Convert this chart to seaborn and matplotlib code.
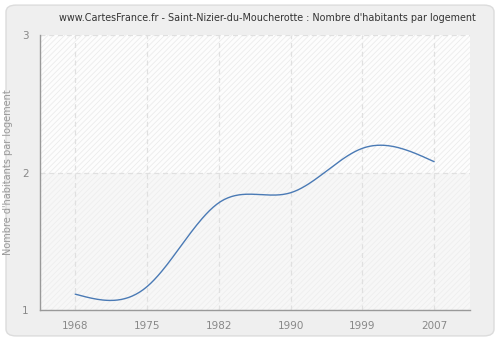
import numpy as np
import pandas as pd
import matplotlib
matplotlib.use("Agg")
import matplotlib.pyplot as plt
import seaborn as sns
from matplotlib.patches import FancyBboxPatch, Rectangle

years = [1968, 1975, 1982, 1990, 1999, 2007]
values = [1.116, 1.17, 1.78, 1.853, 2.176, 2.079]
yticks = [1, 2, 3]
title = "www.CartesFrance.fr - Saint-Nizier-du-Moucherotte : Nombre d'habitants par logement"
ylabel = "Nombre d'habitants par logement"


def natural_spline(xs, ys, n=40):
    xs = np.asarray(xs, float)
    ys = np.asarray(ys, float)
    m = len(xs)
    h = np.diff(xs)
    A = np.zeros((m, m))
    b = np.zeros(m)
    A[0, 0] = 1
    A[-1, -1] = 1
    for i in range(1, m - 1):
        A[i, i - 1] = h[i - 1]
        A[i, i] = 2 * (h[i - 1] + h[i])
        A[i, i + 1] = h[i]
        b[i] = 6 * ((ys[i + 1] - ys[i]) / h[i] - (ys[i] - ys[i - 1]) / h[i - 1])
    M = np.linalg.solve(A, b)
    px, py = [], []
    for i in range(m - 1):
        t = np.linspace(xs[i], xs[i + 1], n)
        if i > 0:
            t = t[1:]
        a = xs[i + 1] - t
        c = t - xs[i]
        y = (M[i] * a ** 3 + M[i + 1] * c ** 3) / (6 * h[i]) \
            + (ys[i] / h[i] - M[i] * h[i] / 6) * a \
            + (ys[i + 1] / h[i] - M[i + 1] * h[i] / 6) * c
        px.extend(t); py.extend(y)
    return np.array(px), np.array(py)


sns.set_style("white")
plt.rcParams['font.family'] = ['DejaVu Sans']
plt.rcParams['hatch.linewidth'] = 0.6
plt.rcParams['hatch.color'] = '#ececec'

fig = plt.figure(figsize=(5, 3.4), dpi=100)
fig.patch.set_facecolor('white')
frame = FancyBboxPatch((0.012, 0.012), 0.976, 0.973,
                       boxstyle="round,pad=0,rounding_size=0.02",
                       transform=fig.transFigure, facecolor='#efefef',
                       edgecolor='#dcdcdc', linewidth=1, zorder=-10)
fig.patches.append(frame)

ax = fig.add_axes([0.08, 0.088, 0.86, 0.809])
ax.set_facecolor('#f9f9f9')
ax.set_xlim(-0.49, 5.5)
ax.set_ylim(1, 3)

ax.add_patch(Rectangle((-0.49, 2), 6, 1, facecolor='#fdfdfd', edgecolor='#ececec',
                       hatch='//////', linewidth=0, zorder=0))
ax.add_patch(Rectangle((-0.49, 1), 6, 1, facecolor='#f7f7f7', edgecolor='#eeeeee',
                       hatch='//////', linewidth=0, zorder=0))

pos = list(range(len(years)))
sx, sy = natural_spline(pos, values)
df = pd.DataFrame({"x": sx, "y": sy})
sns.lineplot(data=df, x="x", y="y", ax=ax, color='#4a7ab5', linewidth=1.0,
             sort=False, estimator=None, zorder=5)

ax.set_xticks(pos)
ax.set_xticklabels([str(y) for y in years])
ax.set_yticks(yticks)
ax.set_yticklabels([str(v) for v in yticks])
for x in pos:
    ax.axvline(x, color='#e0e0e0', linestyle=(0, (4, 3)), linewidth=0.9, zorder=1)
for y in yticks:
    ax.axhline(y, color='#e0e0e0', linestyle=(0, (4, 3)), linewidth=0.9, zorder=1)

for s in ['top', 'right']:
    ax.spines[s].set_visible(False)
for s in ['left', 'bottom']:
    ax.spines[s].set_color('#999999')
    ax.spines[s].set_linewidth(1)
ax.tick_params(axis='both', colors='#999999', labelcolor='#888888', labelsize=7.5,
               length=5, width=1, direction='out')
ax.tick_params(axis='x', pad=3)
ax.tick_params(axis='y', pad=3)
ax.set_xlabel("")
ax.set_ylabel(ylabel, color='#999999', fontsize=7)
ax.yaxis.set_label_coords(-0.063, 0.5)
fig.text(0.534, 0.947, title, ha='center', va='center', fontsize=6.9, color='#333333')

fig.savefig("out.png", dpi=100)
